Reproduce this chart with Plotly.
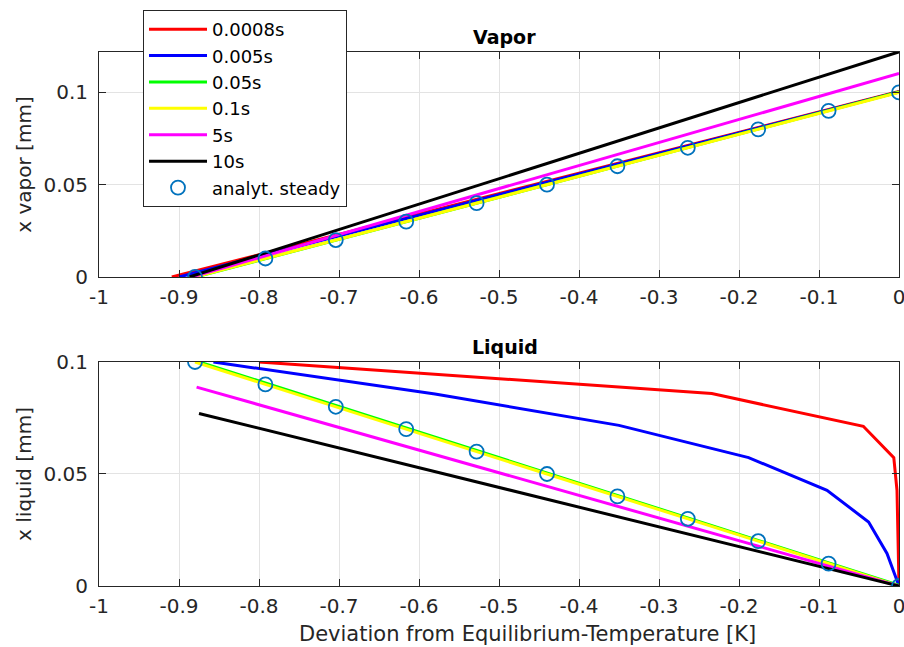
import plotly.graph_objects as go

# ---------------- data ----------------
labels = ["0.0008s", "0.005s", "0.05s", "0.1s", "5s", "10s"]
colors = ["#FF0000", "#0000FF", "#00FF00", "#FFFF00", "#FF00FF", "#000000"]

# Vapor (top)
vap_x = {
    "0.0008s": [-0.909, 0.0],
    "0.005s": [-0.900, 0.0],
    "0.05s": [-0.879, 0.0],
    "0.1s": [-0.880, 0.0],
    "5s": [-0.884, 0.0],
    "10s": [-0.887, 0.0],
}
vap_y = {
    "0.0008s": [0.0, 0.1005],
    "0.005s": [0.0, 0.1003],
    "0.05s": [0.0, 0.1002],
    "0.1s": [0.0, 0.1],
    "5s": [0.0, 0.1103],
    "10s": [0.0, 0.1220],
}

# Liquid (bottom)
liq_x = {
    "0.0008s": [-0.800, -0.234, -0.0446, -0.0065, -0.0025, -0.001, 0.0],
    "0.005s": [-0.857, -0.580, -0.350, -0.188, -0.090, -0.038, -0.015, 0.0],
    "0.05s": [-0.879, 0.0],
    "0.1s": [-0.880, 0.0],
    "5s": [-0.878, 0.0],
    "10s": [-0.875, 0.0],
}
liq_y = {
    "0.0008s": [0.1, 0.0859, 0.0713, 0.0573, 0.0427, 0.002, 0.0],
    "0.005s": [0.1, 0.0857, 0.0717, 0.0573, 0.0427, 0.0286, 0.0145, 0.0],
    "0.05s": [0.1005, 0.0003],
    "0.1s": [0.1, 0.0],
    "5s": [0.0888, 0.0],
    "10s": [0.0770, 0.0],
}

# analytical steady solution
ana_x = [-0.88, -0.792, -0.704, -0.616, -0.528, -0.44, -0.352, -0.264, -0.176, -0.088, 0.0]
ana_vap_y = [0.0, 0.01, 0.02, 0.03, 0.04, 0.05, 0.06, 0.07, 0.08, 0.09, 0.1]
ana_liq_y = [0.1, 0.09, 0.08, 0.07, 0.06, 0.05, 0.04, 0.03, 0.02, 0.01, 0.0]

x_ticks = [-1, -0.9, -0.8, -0.7, -0.6, -0.5, -0.4, -0.3, -0.2, -0.1, 0]
x_ticktext = ["-1", "-0.9", "-0.8", "-0.7", "-0.6", "-0.5", "-0.4", "-0.3", "-0.2", "-0.1", "0"]
y_ticks = [0, 0.05, 0.1]
y_ticktext = ["0", "0.05", "0.1"]

FONT = "DejaVu Sans, Liberation Sans, Arial, sans-serif"
TXT = "#262626"
fig = go.Figure()

for name, col in zip(labels, colors):
    fig.add_trace(go.Scatter(x=vap_x[name], y=vap_y[name], mode="lines",
                             line=dict(color=col, width=3), name=name,
                             legendgroup=name, xaxis="x", yaxis="y"))
fig.add_trace(go.Scatter(x=ana_x, y=ana_vap_y, mode="markers",
                         marker=dict(symbol="circle-open", size=14, color="#0072BD",
                                     line=dict(width=1.8, color="#0072BD")),
                         name="analyt. steady", legendgroup="ana", xaxis="x", yaxis="y"))

for name, col in zip(labels, colors):
    fig.add_trace(go.Scatter(x=liq_x[name], y=liq_y[name], mode="lines",
                             line=dict(color=col, width=3), name=name,
                             legendgroup=name, showlegend=False, xaxis="x2", yaxis="y2"))
fig.add_trace(go.Scatter(x=ana_x, y=ana_liq_y, mode="markers",
                         marker=dict(symbol="circle-open", size=14, color="#0072BD",
                                     line=dict(width=1.8, color="#0072BD")),
                         name="analyt. steady", legendgroup="ana", showlegend=False,
                         xaxis="x2", yaxis="y2"))

axis_common = dict(
    showline=True, linecolor="#262626", linewidth=1, mirror="ticks",
    ticks="inside", ticklen=7, tickcolor="#262626", tickwidth=1,
    showgrid=True, gridcolor="#E3E3E3", gridwidth=1, zeroline=False,
    automargin=False,
    tickfont=dict(family=FONT, size=20, color=TXT),
)

fig.update_layout(
    width=904, height=647,
    margin=dict(l=99, r=5, t=52, b=61, autoexpand=False),
    paper_bgcolor="white", plot_bgcolor="white",
    font=dict(family=FONT, color=TXT),
    xaxis=dict(domain=[0, 1], range=[-1, 0], tickvals=x_ticks, ticktext=x_ticktext,
               anchor="y", ticklabelstandoff=2, ticklabeloverflow="allow", **axis_common),
    yaxis=dict(domain=[0.5787, 1], range=[0, 0.1219], tickvals=y_ticks, ticktext=y_ticktext,
               anchor="x", ticklabelstandoff=6,
               title=dict(text="x vapor [mm]", font=dict(family=FONT, size=20, color=TXT), standoff=6),
               **axis_common),
    xaxis2=dict(domain=[0, 1], range=[-1, 0], tickvals=x_ticks, ticktext=x_ticktext,
                anchor="y2", ticklabelstandoff=2, ticklabeloverflow="allow",
                **axis_common),
    yaxis2=dict(domain=[0, 0.4195], range=[0, 0.1], tickvals=y_ticks, ticktext=y_ticktext,
                anchor="x2", ticklabelstandoff=6,
                title=dict(text="x liquid [mm]", font=dict(family=FONT, size=20, color=TXT), standoff=6),
                **axis_common),
    legend=dict(x=0.055, y=1.0787, xanchor="left", yanchor="top",
                bgcolor="white", bordercolor="#262626", borderwidth=1,
                font=dict(family=FONT, size=18, color="#000000"),
                tracegroupgap=0, itemwidth=58),
    annotations=[
        dict(text="<b>Vapor</b>", x=0.507, y=1.0, xref="paper", yref="paper",
             xanchor="center", yanchor="bottom", yshift=2, showarrow=False,
             font=dict(family=FONT, size=19, color="#000000")),
        dict(text="<b>Liquid</b>", x=0.507, y=0.4195, xref="paper", yref="paper",
             xanchor="center", yanchor="bottom", yshift=2, showarrow=False,
             font=dict(family=FONT, size=19, color="#000000")),
        dict(text="Deviation from Equilibrium-Temperature [K]", x=0.536, y=0.0,
             xref="paper", yref="paper", xanchor="center", yanchor="middle",
             yshift=-48, showarrow=False,
             font=dict(family=FONT, size=21, color=TXT)),
    ],
)

fig.write_html("out.html")
